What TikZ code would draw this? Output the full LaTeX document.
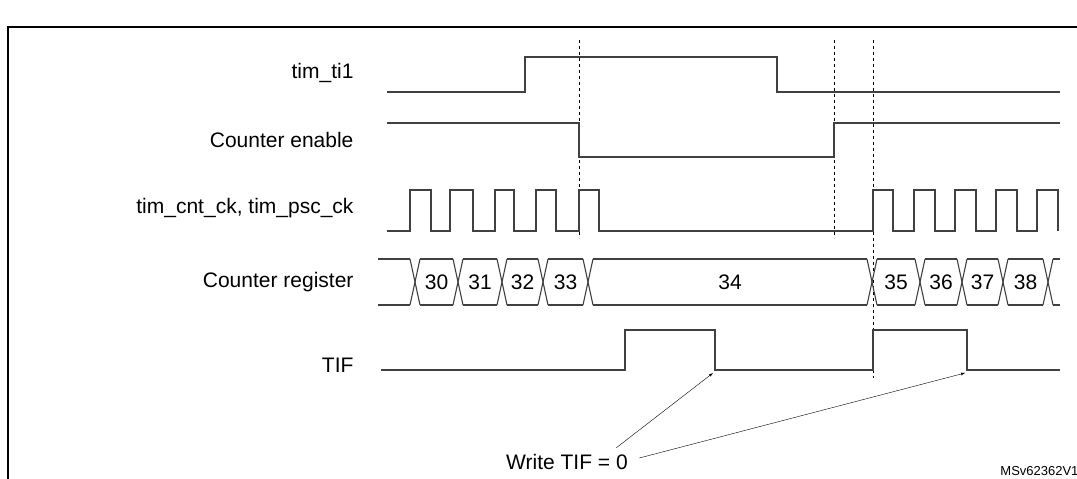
\documentclass[tikz,border=0pt]{standalone}
\usepackage{fontspec}
\setmainfont{Liberation Sans}
\usetikzlibrary{calc}
\tikzset{every node/.style={align=center}}
\tikzset{wave/.style={line width=1.1pt, black!75}}
\tikzset{lined/.style={thin, black, dashed}}
\tikzset{sig/.style={anchor=east, font=\fontsize{21}{25}\selectfont}}
\tikzset{val/.style={font=\fontsize{21}{25}\selectfont}}
\tikzset{pointer/.style={thin, black, -latex}}

\begin{document}
\begin{tikzpicture}[x=1pt, y=-1pt]
	\useasboundingbox (0,0) rectangle (1077,479);
	
	% Frame
	\draw[line width=1.5pt] (8,27) rectangle (1090,495);
	
	% Labels
	\node[sig] (ti) at (357,73) {tim\_ti1};
	\node[sig] (en) at (357,140) {Counter enable};
	\node[sig] (ck) at (357,208) {tim\_cnt\_ck, tim\_psc\_ck};
	\node[sig] (reg) at (357,282) {Counter register};
	\node[sig] (tif) at (357,365) {TIF};
	
	% Dashed
	\draw[lined] (579,40) -- (579,238);
	\draw[lined] (834,40) -- (834,238);
	\draw[lined] (873,40) -- (873,378);
	
	% tim_ti1
	\draw[wave] (387,92) -- (525,92) -- (525,57) -- (777,57) -- (777,92) -- (1060,92);
	
	% Counter enable
	\draw[wave] (387,123) -- (579,123) -- (579,157) -- (834,157) -- (834,123) -- (1060,123);
	
	% Clock
	\draw[wave] (387,231)
		\foreach \r/\f in {410/431, 450/473, 495/514, 536/556, 579/599}
		{ -- (\r,231) -- (\r,190) -- (\f,190) -- (\f,231) }
		-- (873,231)
		\foreach \r/\f in {873/893, 914/935, 955/976, 996/1017, 1037/1058}
		{ -- (\r,231) -- (\r,190) -- (\f,190) -- (\f,231) };
	
	% Counter register
	\foreach \a/\b in {373/415, 415/458, 458/502, 502/543, 543/588, 588/872, 872/920, 920/962, 962/1003, 1003/1048, 1048/1065}
	{
		\draw[wave] (\a+5,259) -- (\b-5,259);
		\draw[wave] (\a+5,305) -- (\b-5,305);
	}
	\foreach \c in {415, 458, 502, 543, 588, 872, 920, 962, 1003, 1048}
	{
		\draw[wave] (\c-5,259) -- (\c+5,305);
		\draw[wave] (\c-5,305) -- (\c+5,259);
	}
	\foreach \a/\b/\v in {415/458/30, 458/502/31, 502/543/32, 543/588/33, 588/872/34, 872/920/35, 920/962/36, 962/1003/37, 1003/1048/38}
		\node[val] (v\v) at ({(\a+\b)/2},282) {\v};
	
	% TIF
	\draw[wave] (381,370) -- (625,370) -- (625,330) -- (715,330) -- (715,370) -- (873,370) -- (873,330) -- (967,330) -- (967,370) -- (1060,370);
	
	% Arrows
	\coordinate (clr1) at (713,373);
	\coordinate (clr2) at (965,373);
	\node[val] (wr) at (567,462) {Write TIF = 0};
	\draw[pointer] (wr.north east) ++(-15,-3) -- (clr1);
	\draw[pointer] (wr.east) ++(8,-4) -- (clr2);
	
	% Nodes
	\node[anchor=east, font=\fontsize{13}{15}\selectfont] (ref) at (1082,471) {MSv62362V1};
\end{tikzpicture}
\end{document}
